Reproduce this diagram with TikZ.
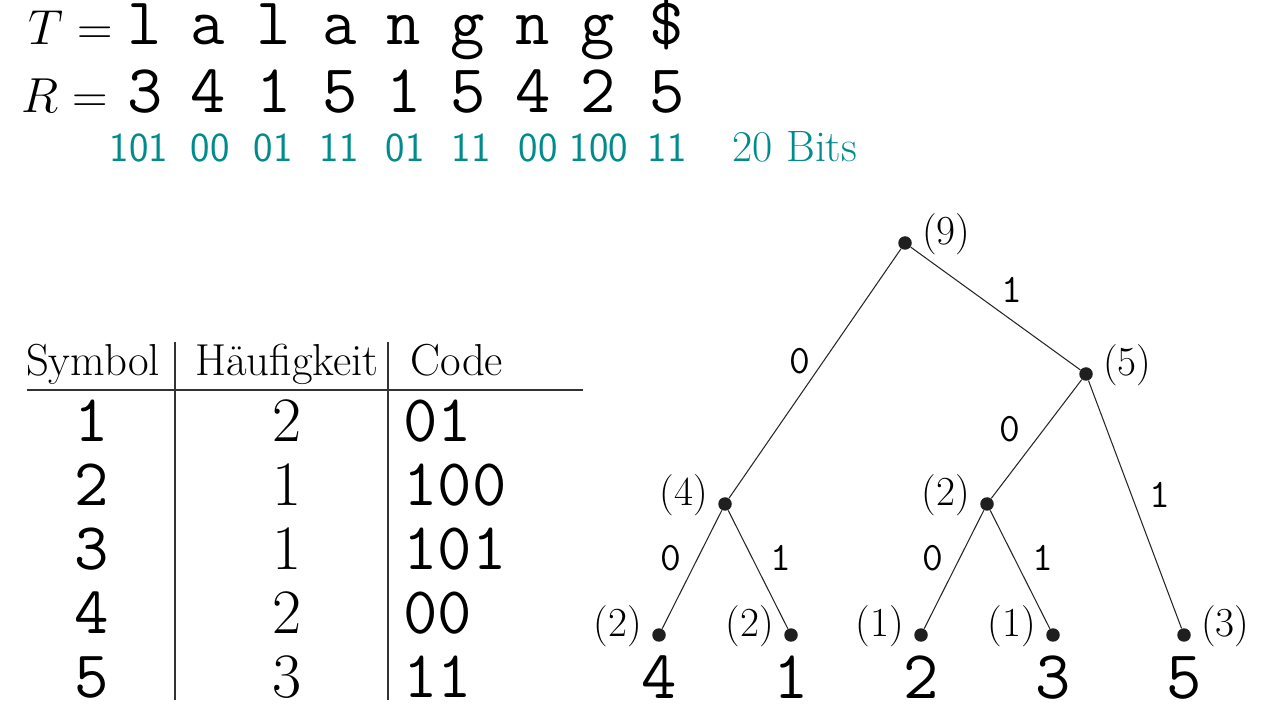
\RequirePackage{fix-cm}
\documentclass[tikz,border=0pt]{standalone}
\usepackage{fontspec}
\usepackage{xcolor}
\usepackage{tikz}
\usetikzlibrary{positioning}
\definecolor{codeteal}{RGB}{0,140,140}

\begin{document}
\begin{tikzpicture}[
    x=0.02cm, y=-0.02cm,
    mathtxt/.style={inner sep=0pt, anchor=base east, font=\fontsize{28}{28}\selectfont},
    letter/.style={inner sep=0pt, anchor=base, font=\ttfamily\fontsize{38}{38}\selectfont},
    rank/.style={inner sep=0pt, anchor=base, font=\ttfamily\fontsize{39}{39}\selectfont},
    bits/.style={inner sep=0pt, anchor=base, text=codeteal, font=\sffamily\fontsize{23.5}{23.5}\selectfont},
    head/.style={inner sep=0pt, anchor=base, font=\fontsize{25.5}{25.5}\selectfont},
    symb/.style={inner sep=0pt, anchor=base, font=\ttfamily\fontsize{38}{38}\selectfont},
    freq/.style={inner sep=0pt, anchor=base, font=\fontsize{36}{36}\selectfont},
    codeword/.style={symb, anchor=base west},
    dot/.style={circle, fill=black!88, inner sep=0pt, minimum size=0.27cm},
    cnt/.style={inner sep=1pt, yshift=5pt, label distance=4.5pt, font=\fontsize{23.5}{23.5}\selectfont},
    cntright/.style={label={[cnt]0:#1}},
    cntleft/.style={label={[cnt]180:#1}},
    bit/.style={inner sep=1pt, font=\ttfamily\fontsize{23}{23}\selectfont},
    branch/.style={draw=black!85, line width=0.6pt},
    rule/.style={draw=black!80, line width=0.6pt}
  ]
    \useasboundingbox (0,0) rectangle (1265,712);

    %% ── Text T and its ranks R
    \node[mathtxt] (tlab) at (113, 45)  {$T=$};
    \node[mathtxt] (rlab) at (108, 113) {$R=$};
    \foreach \x/\c in {145/l, 208/a, 274/l, 340/a, 404/n, 468/g, 533/n, 598/g, 667/\$}
      \node[letter] at (\x, 45) {\c};
    \foreach \x/\c in {145/3, 208/4, 274/1, 340/5, 404/1, 468/5, 533/4, 598/2, 667/5}
      \node[rank] at (\x, 113) {\c};

    %% Encoded bits
    \foreach \x/\c in {139/101, 210/00, 273/01, 339/11, 405/01, 471/11, 538/00, 599/100, 667/11}
      \node[bits] at (\x, 162) {\c};
    \node[bits, font=\fontsize{25}{25}\selectfont] (total) at (795, 162) {20 Bits};

    %% ── Code table
    \node[head] (hsym)  at (93, 376)  {Symbol};
    \node[head] (hfreq) at (287, 376) {Häufigkeit};
    \node[head, anchor=base west] (hcode) at (410, 376) {Code};
    \draw[rule] (27,390) -- (583,390);
    \draw[rule] (175,342) -- (175,700);
    \draw[rule] (388,342) -- (388,700);

    \node[symb] (r1) at (92, 442) {1};
    \node[symb] (r2) at (92, 506) {2};
    \node[symb] (r3) at (92, 570) {3};
    \node[symb] (r4) at (92, 634) {4};
    \node[symb] (r5) at (92, 698) {5};

    \node[freq] (f1) at (287, 442) {2};
    \node[freq] (f2) at (287, 506) {1};
    \node[freq] (f3) at (287, 570) {1};
    \node[freq] (f4) at (287, 634) {2};
    \node[freq] (f5) at (287, 698) {3};

    \node[codeword] (c1) at (403, 442) {01};
    \node[codeword] (c2) at (403, 506) {100};
    \node[codeword] (c3) at (403, 570) {101};
    \node[codeword] (c4) at (403, 634) {00};
    \node[codeword] (c5) at (403, 698) {11};

    %% ── Huffman tree
    \node[dot, cntright=(9)] (n9) at (905, 243) {};
    \node[dot, cntright=(5)] (n5) at (1086, 374) {};
    \node[dot, cntleft=(4)]  (n4) at (725, 504) {};
    \node[dot, cntleft=(2)]  (n2) at (987, 504) {};

    \node[dot, cntleft=(2)]  (l4) at (659, 635) {};
    \node[dot, cntleft=(2)]  (l1) at (791, 635) {};
    \node[dot, cntleft=(1)]  (l2) at (921, 635) {};
    \node[dot, cntleft=(1)]  (l3) at (1053, 635) {};
    \node[dot, cntright=(3)] (l5) at (1184, 635) {};

    %% Leaf symbols
    \node[rank] (s4) at (659, 699)  {4};
    \node[rank] (s1) at (791, 699)  {1};
    \node[rank] (s2) at (921, 699)  {2};
    \node[rank] (s3) at (1053, 699) {3};
    \node[rank] (s5) at (1184, 699) {5};

    %% Branches with their bits
    \draw[branch] (n9) -- node[bit, pos=0.45, left=6pt] {0} (n4);
    \draw[branch] (n9) -- node[bit, pos=0.5, above right=3pt] {1} (n5);
    \draw[branch] (n5) -- node[bit, pos=0.42, left=12pt] {0} (n2);
    \draw[branch] (n5) -- node[bit, pos=0.46, right=9pt] {1} (l5);
    \draw[branch] (n4) -- node[bit, pos=0.4, left=8pt] {0} (l4);
    \draw[branch] (n4) -- node[bit, pos=0.4, right=9pt] {1} (l1);
    \draw[branch] (n2) -- node[bit, pos=0.4, left=8pt] {0} (l2);
    \draw[branch] (n2) -- node[bit, pos=0.4, right=9pt] {1} (l3);
  \end{tikzpicture}
\end{document}
